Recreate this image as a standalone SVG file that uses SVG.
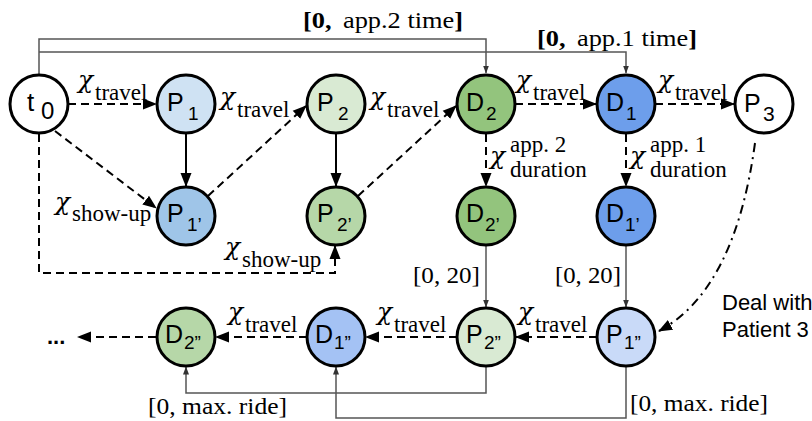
<svg xmlns="http://www.w3.org/2000/svg" width="812" height="421" viewBox="0 0 812 421">
<defs>
<style>
.nd{stroke:#000;stroke-width:3}
.lb{font-family:"Liberation Sans",Arial,sans-serif;font-size:25px;fill:#000}
.sb{font-size:19px}
.se{font-family:"Liberation Serif","Times New Roman",serif;font-size:23px;fill:#000}
.chi{font-family:"DejaVu Serif","Liberation Serif",serif;font-style:italic;font-size:25px;fill:#000}
.dash{stroke:#000;stroke-width:2;stroke-dasharray:8 5;fill:none}
.solid{stroke:#000;stroke-width:2;fill:none}
.thin{stroke:#555;stroke-width:1.5;fill:none}
.dd{stroke:#000;stroke-width:2;stroke-dasharray:9 5 2 5;fill:none}
</style>
<marker id="ah" markerUnits="userSpaceOnUse" markerWidth="14" markerHeight="12" refX="13" refY="6" orient="auto"><path d="M0,0.5 L14,6 L0,11.5 z" fill="#000"/></marker>
<marker id="as" markerUnits="userSpaceOnUse" markerWidth="8" markerHeight="8" refX="7.5" refY="4" orient="auto"><path d="M0,1 L8,4 L0,7 z" fill="#333"/></marker>
</defs>
<rect width="812" height="421" fill="#fff"/>

<g id="connectors">
<path class="thin" d="M39,75 V39 H486 V73" marker-end="url(#as)"/>
<path class="thin" d="M39,52 H626 V73" marker-end="url(#as)"/>
<path class="dash" d="M68,104 H156" marker-end="url(#ah)"/>
<path class="dash" d="M55,131 L156,208" marker-end="url(#ah)"/>
<path class="dash" d="M39,134 V273 H335 V246" marker-end="url(#ah)"/>
<path class="solid" d="M186,133 V186" marker-end="url(#ah)"/>
<path class="dash" d="M208,196 L306,106" marker-end="url(#ah)"/>
<path class="solid" d="M336,133 V186" marker-end="url(#ah)"/>
<path class="dash" d="M358,196 L456,106" marker-end="url(#ah)"/>
<path class="dash" d="M515,104 H596" marker-end="url(#ah)"/>
<path class="dash" d="M655,104 H734" marker-end="url(#ah)"/>
<path class="dash" d="M486,134 V186" marker-end="url(#ah)"/>
<path class="dash" d="M626,134 V186" marker-end="url(#ah)"/>
<path class="dd" d="M755,143 Q735,290 659,331" marker-end="url(#ah)"/>
<path class="thin" d="M486,245 V307" marker-end="url(#as)"/>
<path class="thin" d="M626,245 V307" marker-end="url(#as)"/>
<path class="dash" d="M597,337 H516" marker-end="url(#ah)"/>
<path class="dash" d="M457,337 H366" marker-end="url(#ah)"/>
<path class="dash" d="M307,337 H216" marker-end="url(#ah)"/>
<path class="dash" d="M156,337 H78" marker-end="url(#ah)"/>
<path class="thin" d="M486,367 V393 H186 V367" marker-end="url(#as)"/>
<path class="thin" d="M626,367 V418 H336 V367" marker-end="url(#as)"/>
</g>

<g id="labels">
<text class="se" x="303" y="28" textLength="160" lengthAdjust="spacingAndGlyphs"><tspan font-weight="bold">[0,</tspan><tspan dx="10">app.2 time</tspan><tspan font-weight="bold">]</tspan></text>
<text class="se" x="537" y="46" textLength="160" lengthAdjust="spacingAndGlyphs"><tspan font-weight="bold">[0,</tspan><tspan dx="10">app.1 time</tspan><tspan font-weight="bold">]</tspan></text>

<text class="chi" x="78" y="88">χ</text><text class="se" x="95" y="100">travel</text>
<text class="chi" x="220" y="105">χ</text><text class="se" x="237" y="117">travel</text>
<text class="chi" x="370" y="105">χ</text><text class="se" x="387" y="117">travel</text>
<text class="chi" x="516" y="88">χ</text><text class="se" x="533" y="100">travel</text>
<text class="chi" x="658" y="88">χ</text><text class="se" x="675" y="100">travel</text>

<text class="chi" x="55" y="210">χ</text><text class="se" x="72" y="221">show-up</text>
<text class="chi" x="225" y="255">χ</text><text class="se" x="242" y="267">show-up</text>

<text class="chi" x="490" y="164">χ</text><text class="se" x="510" y="152">app. 2</text><text class="se" x="510" y="177">duration</text>
<text class="chi" x="630" y="164">χ</text><text class="se" x="650" y="152">app. 1</text><text class="se" x="650" y="177">duration</text>

<text class="se" x="413" y="283" textLength="67" lengthAdjust="spacingAndGlyphs">[0, 20]</text>
<text class="se" x="555" y="283" textLength="66" lengthAdjust="spacingAndGlyphs">[0, 20]</text>

<text class="chi" x="518" y="320">χ</text><text class="se" x="535" y="332">travel</text>
<text class="chi" x="377" y="320">χ</text><text class="se" x="394" y="332">travel</text>
<text class="chi" x="228" y="320">χ</text><text class="se" x="245" y="332">travel</text>

<text class="lb" x="722" y="310" style="font-size:22px">Deal with</text>
<text class="lb" x="722" y="337" style="font-size:22px">Patient 3</text>

<text class="lb" x="47" y="344" style="font-size:22px;font-weight:bold">...</text>

<text class="se" x="148" y="414" textLength="139" lengthAdjust="spacingAndGlyphs">[0, max. ride]</text>
<text class="se" x="630" y="411" textLength="138" lengthAdjust="spacingAndGlyphs">[0, max. ride]</text>
</g>

<g id="t0"><circle class="nd" cx="39" cy="104" r="29" fill="#fff"/><text class="lb" x="27" y="111" style="font-size:26px">t<tspan x="41" y="119" style="font-size:24px">0</tspan></text></g>
<g id="P1"><circle class="nd" cx="186" cy="104" r="29" fill="#cfe2f3"/><text class="lb" x="167" y="111">P<tspan class="sb" x="188" y="120">1</tspan></text></g>
<g id="P2"><circle class="nd" cx="336" cy="104" r="29" fill="#d9ead3"/><text class="lb" x="317" y="111">P<tspan class="sb" x="338" y="120">2</tspan></text></g>
<g id="D2"><circle class="nd" cx="486" cy="104" r="29" fill="#93c47d"/><text class="lb" x="466" y="111">D<tspan class="sb" x="486" y="120">2</tspan></text></g>
<g id="D1"><circle class="nd" cx="626" cy="104" r="29" fill="#6d9eeb"/><text class="lb" x="606" y="111">D<tspan class="sb" x="626" y="120">1</tspan></text></g>
<g id="P3"><circle class="nd" cx="764" cy="104" r="29" fill="#fff"/><text class="lb" x="744" y="112">P<tspan x="763" y="121" style="font-size:21px">3</tspan></text></g>

<g id="P1p"><circle class="nd" cx="186" cy="216" r="29" fill="#9fc5e8"/><text class="lb" x="167" y="222">P<tspan class="sb" x="187" y="231">1’</tspan></text></g>
<g id="P2p"><circle class="nd" cx="336" cy="216" r="29" fill="#b6d7a8"/><text class="lb" x="317" y="222">P<tspan class="sb" x="337" y="231">2’</tspan></text></g>
<g id="D2p"><circle class="nd" cx="486" cy="216" r="29" fill="#93c47d"/><text class="lb" x="466" y="222">D<tspan class="sb" x="485" y="231">2’</tspan></text></g>
<g id="D1p"><circle class="nd" cx="626" cy="216" r="29" fill="#6d9eeb"/><text class="lb" x="606" y="222">D<tspan class="sb" x="625" y="231">1’</tspan></text></g>

<g id="D2pp"><circle class="nd" cx="186" cy="337" r="29" fill="#b6d7a8"/><text class="lb" x="165" y="343">D<tspan class="sb" x="184" y="349">2”</tspan></text></g>
<g id="D1pp"><circle class="nd" cx="336" cy="337" r="29" fill="#a4c2f4"/><text class="lb" x="315" y="343">D<tspan class="sb" x="334" y="349">1”</tspan></text></g>
<g id="P2pp"><circle class="nd" cx="486" cy="337" r="29" fill="#d9ead3"/><text class="lb" x="466" y="343">P<tspan class="sb" x="484" y="349">2”</tspan></text></g>
<g id="P1pp"><circle class="nd" cx="626" cy="337" r="29" fill="#c9daf8"/><text class="lb" x="606" y="343">P<tspan class="sb" x="624" y="349">1”</tspan></text></g>
</svg>
